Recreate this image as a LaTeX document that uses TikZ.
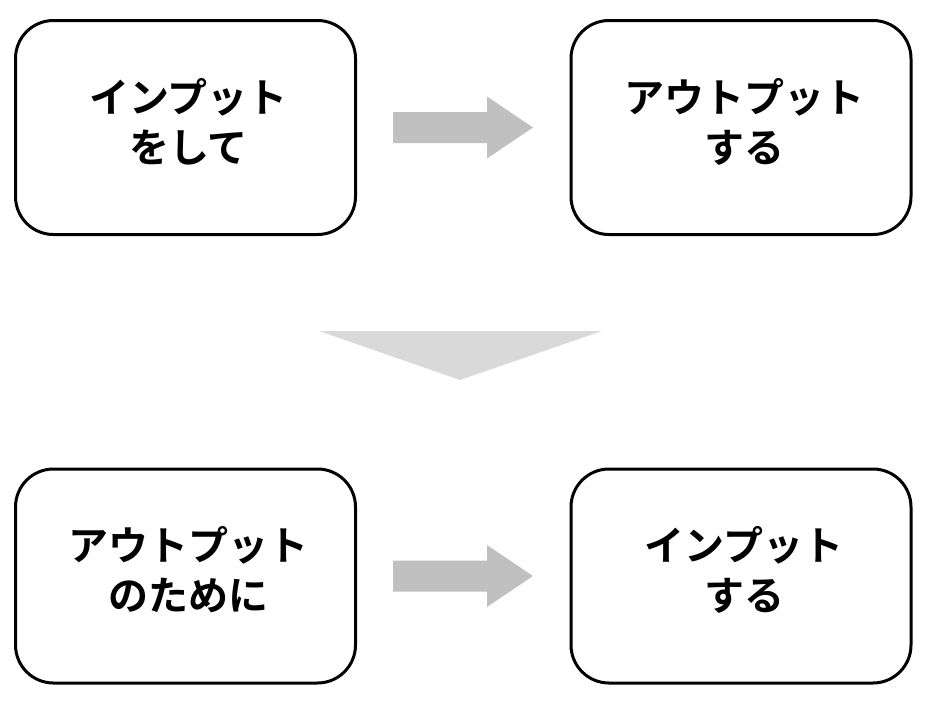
\documentclass[tikz,border=0pt]{standalone}
\usepackage{fontspec}
\newfontfamily\jpfont{Noto Sans CJK JP}[BoldFont={Noto Sans CJK JP Bold}]
\begin{document}
\begin{tikzpicture}[x=1pt,y=-1pt,
  box/.style={draw=black,line width=3pt,rounded corners=38pt,minimum width=340pt,minimum height=214pt,
    fill=white,inner sep=0pt},
  lbl/.style={align=center,font=\jpfont\bfseries\fontsize{40}{50}\selectfont,inner sep=0pt,yshift=6pt,xshift=3pt},
]
\definecolor{arrowgray}{HTML}{C0C0C0}
\definecolor{chevgray}{HTML}{D9D9D9}
\useasboundingbox (0,0) rectangle (932,713);
\node[box] (a) at (185.5,127.5) {};
\node[box] (b) at (741,127.5) {};
\node[box] (c) at (185.5,576) {};
\node[box] (d) at (741,576) {};
\node[lbl] (at) at (a.center) {インプット\\をして};
\node[lbl] (bt) at (b.center) {アウトプット\\する};
\node[lbl] (ct) at (c.center) {アウトプット\\のために};
\node[lbl] (dt) at (d.center) {インプット\\する};
% right arrows
\fill[arrowgray] ([xshift=36pt,yshift=-15.5pt]a.east) -- ([xshift=130pt,yshift=-15.5pt]a.east)
  -- ([xshift=130pt,yshift=-31pt]a.east) -- ([xshift=176pt,yshift=0pt]a.east)
  -- ([xshift=130pt,yshift=31pt]a.east) -- ([xshift=130pt,yshift=15.5pt]a.east)
  -- ([xshift=36pt,yshift=15.5pt]a.east) -- cycle;
\fill[arrowgray] ([xshift=36pt,yshift=-15.5pt]c.east) -- ([xshift=130pt,yshift=-15.5pt]c.east)
  -- ([xshift=130pt,yshift=-31pt]c.east) -- ([xshift=176pt,yshift=0pt]c.east)
  -- ([xshift=130pt,yshift=31pt]c.east) -- ([xshift=130pt,yshift=15.5pt]c.east)
  -- ([xshift=36pt,yshift=15.5pt]c.east) -- cycle;
% down chevron
\coordinate (ch1) at (319,331);
\coordinate (ch2) at (602,331);
\coordinate (ch3) at (460,380);
\fill[chevgray] (ch1) -- (ch2) -- (ch3) -- cycle;
\end{tikzpicture}
\end{document}
